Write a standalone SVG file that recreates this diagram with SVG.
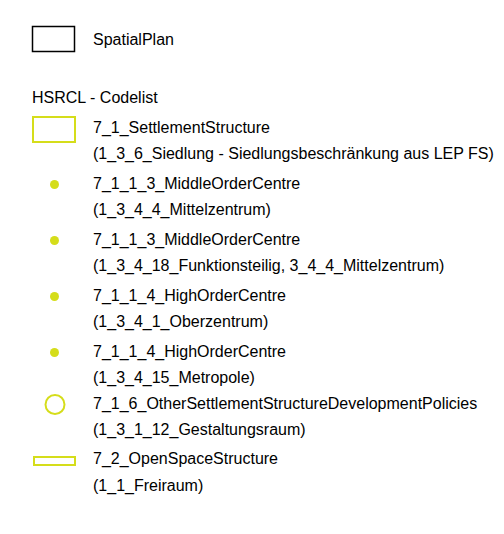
<svg xmlns="http://www.w3.org/2000/svg" width="504" height="534" viewBox="0 0 504 534">
<style>
text{font-family:"Liberation Sans",Arial,sans-serif;font-size:16px;fill:#000}
.y{fill:none;stroke:#d5dd1a;stroke-width:2}
.d{fill:#d5dd1a}
</style>
<rect width="504" height="534" fill="#fff"/>
<g id="spatialplan">
<rect x="32.5" y="26.5" width="42" height="25" fill="none" stroke="#000" stroke-width="1.5"/>
<text x="93" y="45">SpatialPlan</text>
</g>
<g id="header"><text x="32" y="102.5">HSRCL - Codelist</text></g>
<g id="settlement">
<rect class="y" x="33" y="117" width="42" height="25"/>
<text x="93" y="132.5">7_1_SettlementStructure</text>
<text x="93" y="159">(1_3_6_Siedlung - Siedlungsbeschränkung aus LEP FS)</text>
</g>
<g id="middle1">
<circle class="d" cx="54.5" cy="184.5" r="4.5"/>
<text x="93" y="188.5">7_1_1_3_MiddleOrderCentre</text>
<text x="93" y="214.5">(1_3_4_4_Mittelzentrum)</text>
</g>
<g id="middle2">
<circle class="d" cx="54.5" cy="240.5" r="4.5"/>
<text x="93" y="244.5">7_1_1_3_MiddleOrderCentre</text>
<text x="93" y="270.5">(1_3_4_18_Funktionsteilig, 3_4_4_Mittelzentrum)</text>
</g>
<g id="high1">
<circle class="d" cx="54.5" cy="296.5" r="4.5"/>
<text x="93" y="300.5">7_1_1_4_HighOrderCentre</text>
<text x="93" y="326.5">(1_3_4_1_Oberzentrum)</text>
</g>
<g id="high2">
<circle class="d" cx="54.5" cy="352.5" r="4.5"/>
<text x="93" y="356.5">7_1_1_4_HighOrderCentre</text>
<text x="93" y="382.5">(1_3_4_15_Metropole)</text>
</g>
<g id="other">
<circle class="y" cx="55" cy="404.5" r="9.5" stroke-width="2.5"/>
<text x="93" y="408.5">7_1_6_OtherSettlementStructureDevelopmentPolicies</text>
<text x="93" y="434.5">(1_3_1_12_Gestaltungsraum)</text>
</g>
<g id="openspace">
<rect class="y" x="34" y="457" width="41" height="8"/>
<text x="93" y="464">7_2_OpenSpaceStructure</text>
<text x="93" y="490.5">(1_1_Freiraum)</text>
</g>
<g id="connectors"/>
</svg>
